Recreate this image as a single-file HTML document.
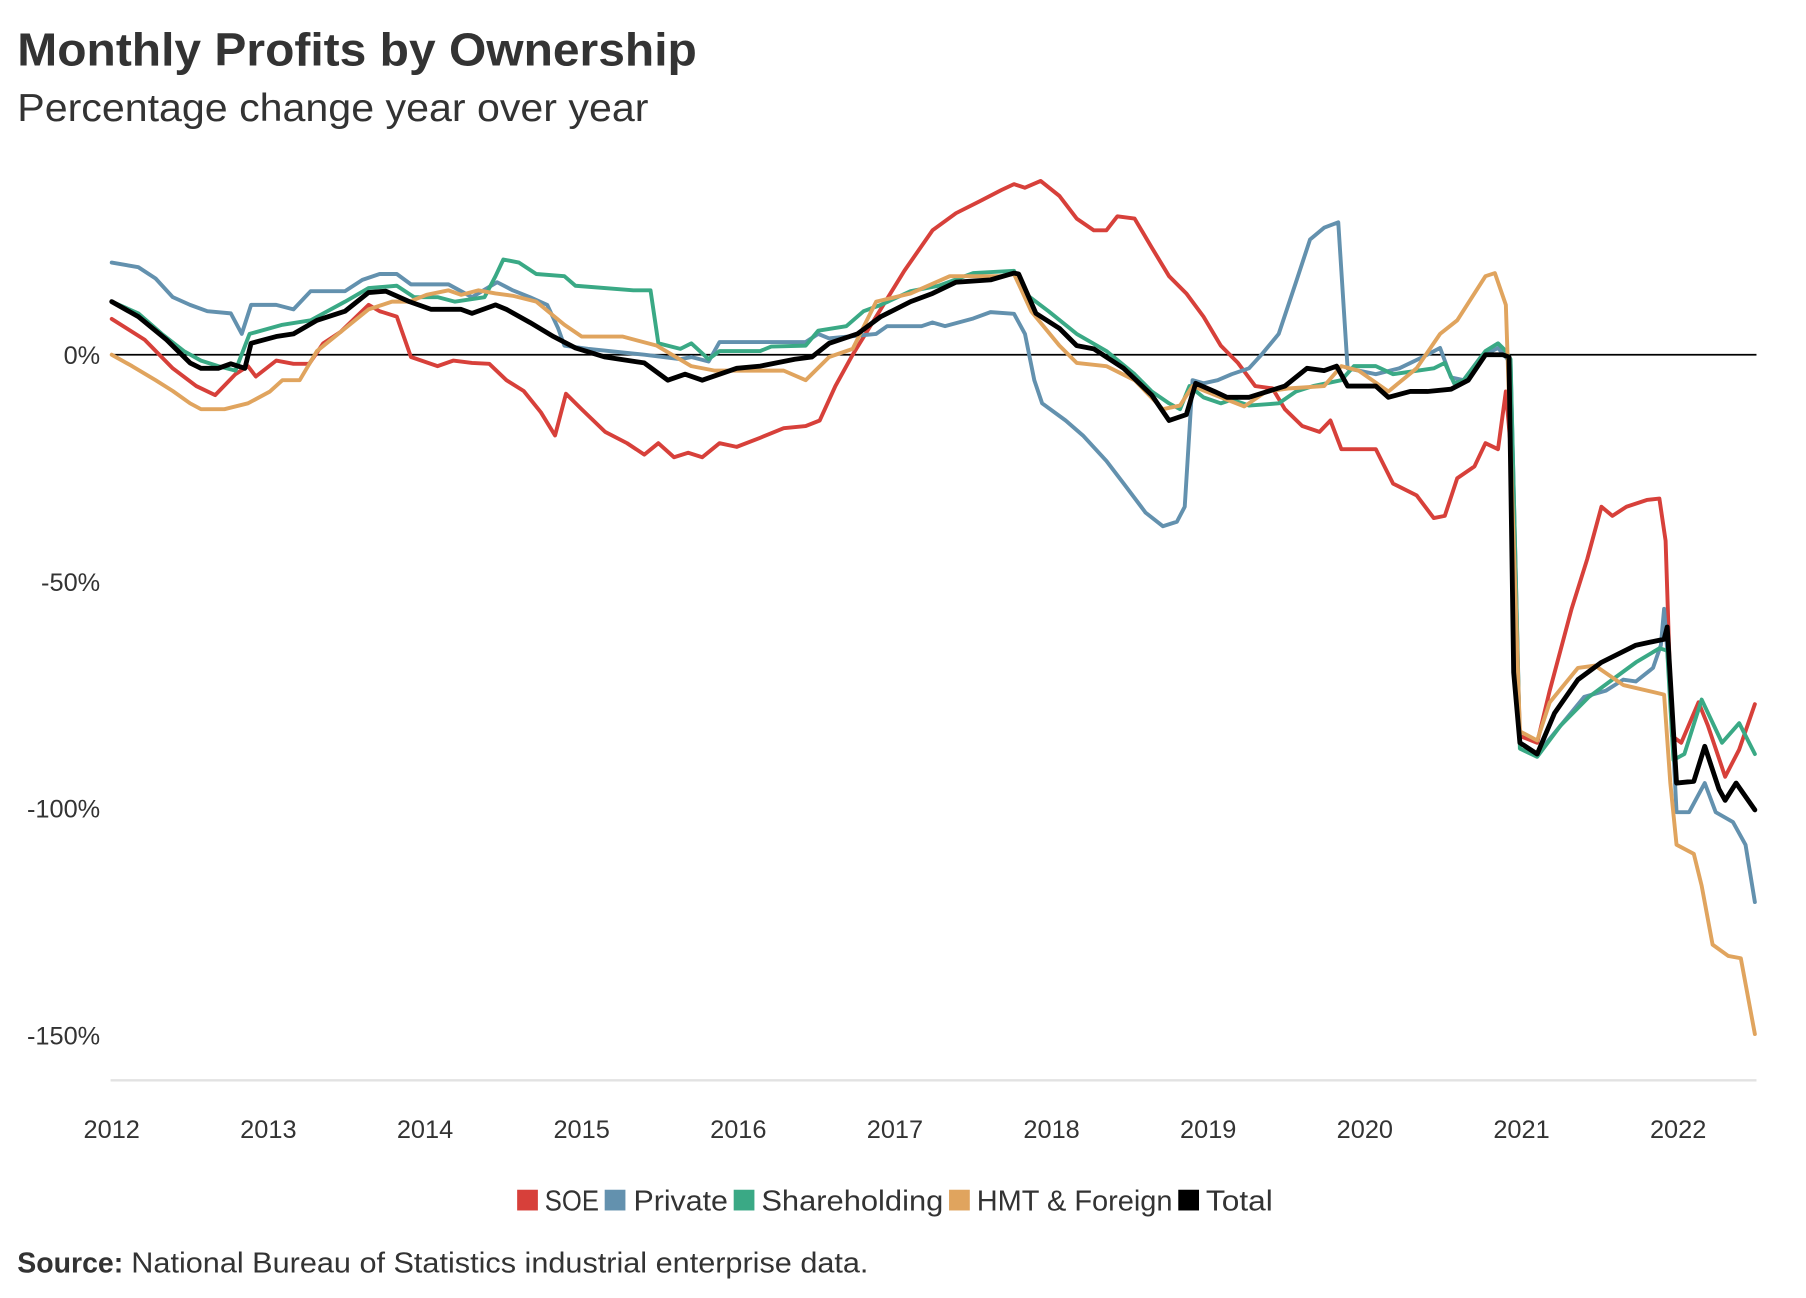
<!DOCTYPE html>
<html>
<head>
<meta charset="utf-8">
<style>
  html, body { margin: 0; padding: 0; background: #fff; }
  svg { display: block; }
  text { font-family: "Liberation Sans", sans-serif; fill: #333; }
</style>
</head>
<body>
<svg id="chart" width="1806" height="1298" viewBox="0 0 1568 1127" preserveAspectRatio="none" xmlns="http://www.w3.org/2000/svg">
  <rect x="0" y="0" width="1568" height="1127" fill="#fff"/>
  <text x="15" y="57" font-size="40" font-weight="bold" textLength="590" lengthAdjust="spacingAndGlyphs">Monthly Profits by Ownership</text>
  <text x="15" y="105" font-size="34" textLength="548" lengthAdjust="spacingAndGlyphs">Percentage change year over year</text>
  <g id="yaxis"></g>
  <g id="xaxis"></g>
  <g id="series"></g>
  <g id="legend">
    <rect x="449" y="1033" width="18" height="18" fill="#d7403a"/>
    <text x="473" y="1051" font-size="25" textLength="47" lengthAdjust="spacingAndGlyphs">SOE</text>
    <rect x="525" y="1033" width="18" height="18" fill="#6391ae"/>
    <text x="550" y="1051" font-size="25" textLength="82" lengthAdjust="spacingAndGlyphs">Private</text>
    <rect x="637" y="1033" width="18" height="18" fill="#3aa985"/>
    <text x="661" y="1051" font-size="25" textLength="158" lengthAdjust="spacingAndGlyphs">Shareholding</text>
    <rect x="824" y="1033" width="18" height="18" fill="#e0a45e"/>
    <text x="848" y="1051" font-size="25" textLength="170" lengthAdjust="spacingAndGlyphs">HMT &amp; Foreign</text>
    <rect x="1023" y="1033" width="18" height="18" fill="#000"/>
    <text x="1047" y="1051" font-size="25" textLength="58" lengthAdjust="spacingAndGlyphs">Total</text>
  </g>
  <text x="15" y="1105" font-size="25" font-weight="bold" textLength="92" lengthAdjust="spacingAndGlyphs">Source:</text>
  <text x="114" y="1105" font-size="25" textLength="640" lengthAdjust="spacingAndGlyphs">National Bureau of Statistics industrial enterprise data.</text>
</svg>
<script>
const yTicks = [0, -50, -100, -150];
const yTickLabels = ["0%", "-50%", "-100%", "-150%"];
const xTicks = [2012, 2013, 2014, 2015, 2016, 2017, 2018, 2019, 2020, 2021, 2022];
const seriesNames = ["SOE", "Private", "Shareholding", "HMT & Foreign", "Total"];

const soeDates = [2012.00,2012.21,2012.39,2012.54,2012.66,2012.79,2012.87,2012.92,2013.05,2013.16,2013.26,2013.35,2013.46,2013.64,2013.71,2013.82,2013.91,2014.08,2014.18,2014.30,2014.41,2014.52,2014.63,2014.74,2014.83,2014.90,2015.00,2015.15,2015.29,2015.40,2015.49,2015.59,2015.68,2015.77,2015.88,2015.99,2016.14,2016.29,2016.43,2016.52,2016.62,2016.73,2016.88,2017.06,2017.24,2017.39,2017.54,2017.68,2017.76,2017.83,2017.93,2018.05,2018.16,2018.27,2018.35,2018.42,2018.53,2018.64,2018.75,2018.86,2018.97,2019.08,2019.19,2019.30,2019.41,2019.49,2019.60,2019.71,2019.78,2019.85,2020.07,2020.18,2020.33,2020.44,2020.51,2020.59,2020.70,2020.77,2020.85,2020.90,2020.93,2020.99,2021.10,2021.18,2021.32,2021.42,2021.51,2021.58,2021.67,2021.80,2021.88,2021.92,2021.96,2022.02,2022.13,2022.19,2022.30,2022.39,2022.49];
const soeValues = [7.9,3.3,-3,-6.9,-8.9,-4.3,-2.5,-4.8,-1.3,-2,-2,2.5,5,11,9.6,8.4,-0.5,-2.5,-1.3,-1.8,-2,-5.6,-8,-12.7,-17.8,-8.6,-12,-17,-19.5,-22,-19.5,-22.6,-21.6,-22.6,-19.5,-20.3,-18.3,-16.2,-15.7,-14.5,-6.9,0,8.4,18.5,27.4,31.2,33.8,36.3,37.6,36.8,38.3,35,30,27.4,27.4,30.5,30,23.6,17.3,13.5,8.4,2,-1.8,-6.9,-7.4,-12,-15.7,-17,-14.5,-20.8,-20.8,-28.4,-31,-36,-35.5,-27.2,-24.6,-19.5,-20.8,-8.1,-20,-84,-85.5,-74,-56,-45,-33.5,-35.5,-33.5,-32,-31.7,-41,-84,-85.5,-76.6,-81.7,-93,-87,-77];

const privateDates = [2012.00,2012.17,2012.28,2012.39,2012.50,2012.61,2012.76,2012.83,2012.89,2013.05,2013.16,2013.27,2013.49,2013.60,2013.71,2013.82,2013.91,2014.15,2014.30,2014.46,2014.56,2014.67,2014.78,2014.85,2014.89,2015.04,2015.40,2015.63,2015.70,2015.81,2015.88,2016.43,2016.51,2016.58,2016.88,2016.95,2017.17,2017.24,2017.32,2017.50,2017.61,2017.76,2017.83,2017.89,2017.94,2018.09,2018.20,2018.35,2018.46,2018.60,2018.71,2018.80,2018.85,2018.90,2018.97,2019.06,2019.15,2019.26,2019.34,2019.45,2019.56,2019.65,2019.74,2019.83,2019.89,2020.07,2020.22,2020.37,2020.48,2020.55,2020.63,2020.74,2020.85,2020.90,2020.93,2020.99,2021.10,2021.25,2021.40,2021.54,2021.65,2021.73,2021.84,2021.89,2021.91,2021.95,2021.99,2022.07,2022.17,2022.24,2022.35,2022.43,2022.49];
const privateValues = [20.3,19.3,16.8,12.7,11,9.6,9.1,4.6,11,11,10,14,14,16.5,17.8,17.8,15.5,15.5,12.7,16,14.2,12.7,11,5.8,2,1.3,0,-1,-0.5,-1.5,2.8,2.8,4.6,3.6,4.6,6.3,6.3,7.1,6.3,8,9.4,9,4.6,-5.6,-10.7,-14.5,-17.8,-23.4,-28.4,-34.8,-37.8,-36.8,-33.5,-5.6,-6.3,-5.6,-4.3,-3,0,4.6,16,25.4,28,29.2,-3,-4.3,-3,-0.5,1.5,-5,-5.6,-0.5,1.5,-0.5,-2,-85.5,-88,-81.7,-75.4,-74,-71.6,-72,-69,-64,-56,-74,-100.8,-100.8,-94.4,-100.8,-103,-108,-120.6];

const shareDates = [2012.00,2012.17,2012.32,2012.46,2012.57,2012.68,2012.79,2012.88,2013.09,2013.27,2013.49,2013.64,2013.82,2013.93,2014.08,2014.19,2014.38,2014.45,2014.50,2014.60,2014.71,2014.89,2014.96,2015.33,2015.44,2015.49,2015.63,2015.70,2015.81,2015.88,2016.14,2016.21,2016.43,2016.51,2016.69,2016.80,2016.91,2017.10,2017.28,2017.50,2017.76,2017.83,2017.98,2018.16,2018.35,2018.53,2018.64,2018.75,2018.82,2018.88,2018.97,2019.08,2019.15,2019.26,2019.45,2019.56,2019.67,2019.85,2019.93,2020.07,2020.18,2020.44,2020.51,2020.57,2020.63,2020.77,2020.85,2020.90,2020.93,2020.99,2021.10,2021.25,2021.43,2021.58,2021.73,2021.88,2021.93,2021.97,2022.04,2022.15,2022.28,2022.39,2022.49];
const shareValues = [11.7,9.1,4.6,0.8,-1.3,-2.5,-3.5,4.6,6.6,7.6,11.7,14.7,15.2,12.7,12.7,11.7,12.7,17.3,21,20.3,17.8,17.3,15.2,14.2,14.2,2.5,1.3,2.5,-1,0.8,0.8,1.8,2,5.3,6.3,9.6,11,14,15.2,18,18.5,13.5,9.6,4.6,0.8,-4.3,-8.1,-10.7,-12,-6.9,-9.4,-10.7,-9.9,-11.2,-10.7,-8.1,-6.9,-5.6,-2.5,-2.5,-4.3,-3,-1.8,-6.3,-5.6,0.8,2.5,0.8,-1,-86.8,-88.6,-81.7,-75.4,-71.6,-67.8,-64.7,-65.2,-89.3,-88,-76,-85.5,-81.2,-88];

const hmtDates = [2012.00,2012.13,2012.28,2012.39,2012.50,2012.57,2012.72,2012.87,2013.01,2013.09,2013.20,2013.31,2013.49,2013.64,2013.79,2013.90,2014.01,2014.15,2014.23,2014.34,2014.45,2014.56,2014.71,2014.89,2015.00,2015.26,2015.48,2015.70,2015.85,2016.29,2016.43,2016.58,2016.73,2016.88,2017.10,2017.35,2017.68,2017.76,2017.87,2018.05,2018.16,2018.35,2018.53,2018.71,2018.82,2018.90,2019.08,2019.23,2019.37,2019.52,2019.74,2019.85,2019.96,2020.15,2020.33,2020.48,2020.59,2020.77,2020.83,2020.90,2020.93,2020.99,2021.10,2021.18,2021.36,2021.47,2021.65,2021.91,2021.95,2021.99,2022.10,2022.15,2022.22,2022.32,2022.40,2022.49];
const hmtValues = [0,-2.5,-5.6,-8,-10.7,-12,-12,-10.7,-8.1,-5.6,-5.6,0.8,5.8,10,11.7,11.7,13.2,14.2,13.2,14.2,13.5,13,11.7,6.6,4,4,2,-2.5,-3.5,-3.5,-5.6,-0.5,1.3,11.7,13.5,17.3,17.3,17.8,9.6,2,-1.8,-2.5,-5.6,-12,-11.2,-6.9,-9.4,-11.4,-8.1,-7.4,-6.9,-2.5,-3.5,-8.1,-3,4.6,7.6,17.3,18,11,-20,-83,-85,-76.6,-69,-68.5,-72.8,-74.9,-94.4,-108,-110,-117,-130,-132.5,-133,-149.7];

const totalDates = [2012.00,2012.17,2012.35,2012.50,2012.57,2012.68,2012.76,2012.85,2012.89,2013.05,2013.16,2013.31,2013.49,2013.64,2013.75,2013.90,2014.04,2014.23,2014.30,2014.45,2014.52,2014.67,2014.82,2014.96,2015.15,2015.40,2015.55,2015.66,2015.77,2015.99,2016.14,2016.36,2016.47,2016.58,2016.76,2016.91,2017.10,2017.24,2017.39,2017.61,2017.76,2017.79,2017.90,2018.05,2018.16,2018.27,2018.46,2018.64,2018.75,2018.86,2018.92,2019.04,2019.12,2019.26,2019.38,2019.49,2019.63,2019.74,2019.82,2019.89,2020.07,2020.15,2020.29,2020.40,2020.55,2020.66,2020.77,2020.88,2020.92,2020.95,2020.99,2021.10,2021.21,2021.36,2021.51,2021.73,2021.91,2021.93,2021.99,2022.10,2022.17,2022.26,2022.30,2022.37,2022.49];
const totalValues = [11.7,8.4,3.3,-1.8,-3,-3,-2,-3,2.5,4,4.6,7.6,9.6,13.7,14,11.7,10,10,9.1,11,10,7.1,4,1.5,-0.5,-1.8,-5.6,-4.3,-5.6,-3,-2.5,-1,-0.5,2.5,4.6,8.4,11.7,13.5,16,16.5,18,17.8,9.1,5.8,2,1.3,-3,-8.9,-14.5,-13.2,-6.3,-8.1,-9.4,-9.4,-8.1,-6.9,-3,-3.5,-2.5,-6.9,-6.9,-9.4,-8.1,-8.1,-7.6,-5.6,0,0,-0.5,-70,-85.5,-88,-79,-71.6,-67.8,-64,-62.7,-60,-94.4,-94,-86.3,-95.7,-98.2,-94.4,-100.3];

const NS = "http://www.w3.org/2000/svg";
const X0 = 97, PX_PER_YEAR = 136, X_END = 1525;
const Y0 = 308, PX_PER_PCT = 3.94;
function xScale(year) { return X0 + (year - 2012) * PX_PER_YEAR; }
function yScale(v) { return Y0 - v * PX_PER_PCT; }

const yAxis = document.getElementById("yaxis");
yTicks.forEach(function (t, i) {
  const lbl = document.createElementNS(NS, "text");
  lbl.setAttribute("x", 87);
  lbl.setAttribute("y", yScale(t) + 8);
  lbl.setAttribute("text-anchor", "end");
  lbl.setAttribute("font-size", "22");
  lbl.textContent = yTickLabels[i];
  
  
  yAxis.appendChild(lbl);
});

const xAxis = document.getElementById("xaxis");
const baseLine = document.createElementNS(NS, "line");
baseLine.setAttribute("x1", 96);
baseLine.setAttribute("x2", X_END);
baseLine.setAttribute("y1", 938);
baseLine.setAttribute("y2", 938);
baseLine.setAttribute("stroke", "#e2e2e2");
baseLine.setAttribute("stroke-width", "2");


xAxis.appendChild(baseLine);
xTicks.forEach(function (t) {
  const lbl = document.createElementNS(NS, "text");
  lbl.setAttribute("x", xScale(t));
  lbl.setAttribute("y", 988);
  lbl.setAttribute("text-anchor", "middle");
  lbl.setAttribute("font-size", "22");
  lbl.textContent = String(t);
  
  
  xAxis.appendChild(lbl);
});

const plot = document.getElementById("series");
const zero = document.createElementNS(NS, "line");
zero.setAttribute("x1", X0);
zero.setAttribute("x2", X_END);
zero.setAttribute("y1", yScale(0));
zero.setAttribute("y2", yScale(0));
zero.setAttribute("stroke", "#000");
zero.setAttribute("stroke-width", "1.5");


plot.appendChild(zero);

function drawLine(dates, values, color, width, name) {
  let d = "";
  for (let i = 0; i < dates.length; i++) {
    d += (i === 0 ? "M" : "L") + xScale(dates[i]).toFixed(1) + "," + yScale(values[i]).toFixed(1);
  }
  const p = document.createElementNS(NS, "path");
  p.setAttribute("d", d);
  p.setAttribute("fill", "none");
  p.setAttribute("stroke", color);
  p.setAttribute("stroke-width", width);
  p.setAttribute("stroke-linejoin", "round");
  p.setAttribute("stroke-linecap", "round");
  
  
  plot.appendChild(p);
}
drawLine(soeDates, soeValues, "#d7403a", 3.4, "line-soe");
drawLine(privateDates, privateValues, "#6391ae", 3.4, "line-private");
drawLine(shareDates, shareValues, "#3aa985", 3.4, "line-shareholding");
drawLine(hmtDates, hmtValues, "#e0a45e", 3.4, "line-hmt-foreign");
drawLine(totalDates, totalValues, "#000000", 4.2, "line-total");
</script>
</body>
</html>
